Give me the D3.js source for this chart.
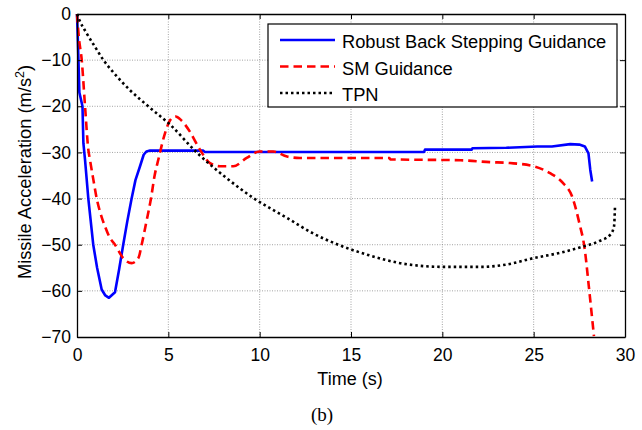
<!DOCTYPE html>
<html>
<head>
<meta charset="utf-8">
<script src="https://cdn.jsdelivr.net/npm/d3@7/dist/d3.min.js"></script>
<style>
  body { margin: 0; background: #fff; }
  svg { display: block; font-family: Arial, "Liberation Sans", sans-serif; }
</style>
</head>
<body>
<div id="chart"></div>
<script>
const W = 642, H = 430
const MARGIN = {LEFT: 77, RIGHT: 17, TOP: 14, BOTTOM: 93}

const robustT = [0, 0.05, 0.13, 0.3, 0.35, 0.44, 0.62, 0.89, 1.1, 1.35, 1.55, 1.75, 2.08, 2.3, 2.53, 2.75, 2.99, 3.2, 3.45, 3.65, 3.8, 4.0, 6.9, 7.0, 19.0, 19.05, 21.6, 21.65, 23.5, 25.2, 26.0, 27.0, 27.5, 27.8, 28.0, 28.1, 28.2]
const robustV = [0, -6, -17, -20, -28, -31.6, -40, -50, -55, -59.7, -61, -61.5, -60.3, -55.5, -50, -45, -40, -36, -33, -30.5, -29.8, -29.6, -29.6, -29.9, -29.9, -29.4, -29.4, -29.1, -29.0, -28.7, -28.7, -28.2, -28.3, -28.7, -30.2, -33.8, -36.3]

const smT = [0, 0.1, 0.26, 0.44, 0.62, 0.71, 0.9, 1.08, 1.35, 1.53, 1.8, 2.08, 2.53, 2.99, 3.36, 3.54, 3.8, 4.05, 4.25, 4.45, 4.82, 5.1, 5.4, 5.7, 6.18, 6.73, 7.28, 7.83, 8.56, 9.29, 10.0, 10.75, 11.5, 12.2, 17.1, 17.15, 21.0, 22.6, 23.7, 25.0, 25.9, 26.6, 27.1, 27.5, 27.8, 28.0, 28.15, 28.3]
const smV = [0, -5, -10, -20, -29.4, -31.6, -36, -40, -44, -46, -48.5, -50, -52.9, -54, -52.9, -50, -45, -40, -35, -31.6, -25.8, -23, -22.2, -23, -25.5, -29.4, -32.3, -33, -33, -31.2, -29.8, -29.8, -30.9, -31.2, -31.2, -31.5, -31.7, -32.1, -32.3, -33, -34.5, -36.6, -39.5, -45.3, -51.1, -58.3, -64, -69.8]

const tpnT = [0, 0.13, 0.5, 1.0, 1.45, 2.0, 2.9, 3.9, 5.1, 6.55, 8.2, 9.7, 11.5, 12.9, 14.3, 16.0, 17.7, 20.0, 22.2, 23.5, 25.0, 26.5, 27.7, 28.6, 29.2, 29.4, 29.45]
const tpnV = [0, -1.3, -4, -7.2, -10, -12.7, -16.5, -20, -24, -30, -35.6, -40, -44.2, -47.5, -50, -52.3, -54, -54.8, -54.8, -54.3, -52.9, -51.7, -50.4, -49.2, -47.8, -46, -42]

const seriesNames = ["Robust Back Stepping Guidance", "SM Guidance", "TPN"]
const xTicks = [0, 5, 10, 15, 20, 25, 30]
const yTicks = [0, -10, -20, -30, -40, -50, -60, -70]

const series = [
  {name: seriesNames[0], t: robustT, v: robustV, color: "#0000ff", dash: null, curve: d3.curveLinear},
  {name: seriesNames[1], t: smT, v: smV, color: "#ff0000", dash: "8.5,5", curve: d3.curveMonotoneX},
  {name: seriesNames[2], t: tpnT, v: tpnV, color: "#000000", dash: "2.5,3", curve: d3.curveMonotoneX}
]

const svg = d3.select("#chart").append("svg")
    .attr("width", W)
    .attr("height", H)

const x = d3.scaleLinear().domain([0, 30]).range([MARGIN.LEFT, W - MARGIN.RIGHT])
const y = d3.scaleLinear().domain([-70, 0]).range([H - MARGIN.BOTTOM, MARGIN.TOP])

// grid
const grid = svg.append("g").attr("stroke", "#8c8c8c").attr("stroke-width", 0.8).attr("stroke-dasharray", "1,1.5")
grid.selectAll(".gx").data(xTicks.slice(1, -1)).enter().append("line")
    .attr("x1", d => x(d)).attr("x2", d => x(d))
    .attr("y1", y(0)).attr("y2", y(-70))
grid.selectAll(".gy").data(yTicks.slice(1, -1)).enter().append("line")
    .attr("x1", x(0)).attr("x2", x(30))
    .attr("y1", d => y(d)).attr("y2", d => y(d))

// curves
series.forEach(s => {
  const line = d3.line()
      .x((d, i) => x(s.t[i]))
      .y(d => y(d))
      .curve(s.curve)
  svg.append("path")
      .attr("d", line(s.v))
      .attr("fill", "none")
      .attr("stroke", s.color)
      .attr("stroke-width", 2.6)
      .attr("stroke-dasharray", s.dash)
      .attr("stroke-linejoin", "round")
})

// axes, ticks inward like matlab
const TL = 5
svg.append("g").attr("transform", `translate(0,${y(-70)})`)
    .call(d3.axisBottom(x).tickValues(xTicks).tickSizeInner(-TL).tickSizeOuter(0).tickPadding(12))
svg.append("g").attr("transform", `translate(0,${y(0)})`)
    .call(d3.axisTop(x).tickValues(xTicks).tickSizeInner(-TL).tickSizeOuter(0).tickFormat(""))
svg.append("g").attr("transform", `translate(${x(0)},0)`)
    .call(d3.axisLeft(y).tickValues(yTicks).tickSizeInner(-TL).tickSizeOuter(0).tickPadding(6))
svg.append("g").attr("transform", `translate(${x(30)},0)`)
    .call(d3.axisRight(y).tickValues(yTicks).tickSizeInner(-TL).tickSizeOuter(0).tickFormat(""))

svg.selectAll(".domain").attr("stroke", "#000").attr("stroke-width", 1.3)
svg.selectAll(".tick line").attr("stroke", "#000")
svg.selectAll(".tick text")
    .attr("font-family", "Arial, 'Liberation Sans', sans-serif")
    .attr("font-size", 17.5)
    .attr("fill", "#000")

// legend
const lg = svg.append("g")
lg.append("rect")
    .attr("x", 268).attr("y", 24)
    .attr("width", 349).attr("height", 83)
    .attr("fill", "#fff").attr("stroke", "#000").attr("stroke-width", 1.2)
series.forEach((s, i) => {
  const yy = 40 + i * 26.5
  lg.append("line")
      .attr("x1", 280).attr("x2", 335)
      .attr("y1", yy).attr("y2", yy)
      .attr("stroke", s.color).attr("stroke-width", 2.6)
      .attr("stroke-dasharray", s.dash)
  lg.append("text")
      .attr("x", 342).attr("y", yy + 8)
      .attr("font-size", 18.3)
      .text(s.name)
})

// labels
svg.append("text")
    .attr("x", (x(0) + x(30)) / 2 - 1).attr("y", 385)
    .attr("text-anchor", "middle")
    .attr("font-size", 18)
    .text("Time (s)")

const yl = svg.append("text")
    .attr("transform", `translate(31,172) rotate(-90)`)
    .attr("text-anchor", "middle")
    .attr("font-size", 18.3)
yl.append("tspan").text("Missile Acceleration (m/s")
yl.append("tspan").attr("font-size", 12.5).attr("dy", -7).text("2")
yl.append("tspan").attr("dy", 7).text(")")

svg.append("text")
    .attr("x", 322).attr("y", 421)
    .attr("text-anchor", "middle")
    .attr("font-family", "'Times New Roman', 'Liberation Serif', serif")
    .attr("font-size", 19)
    .text("(b)")
</script>
</body>
</html>
